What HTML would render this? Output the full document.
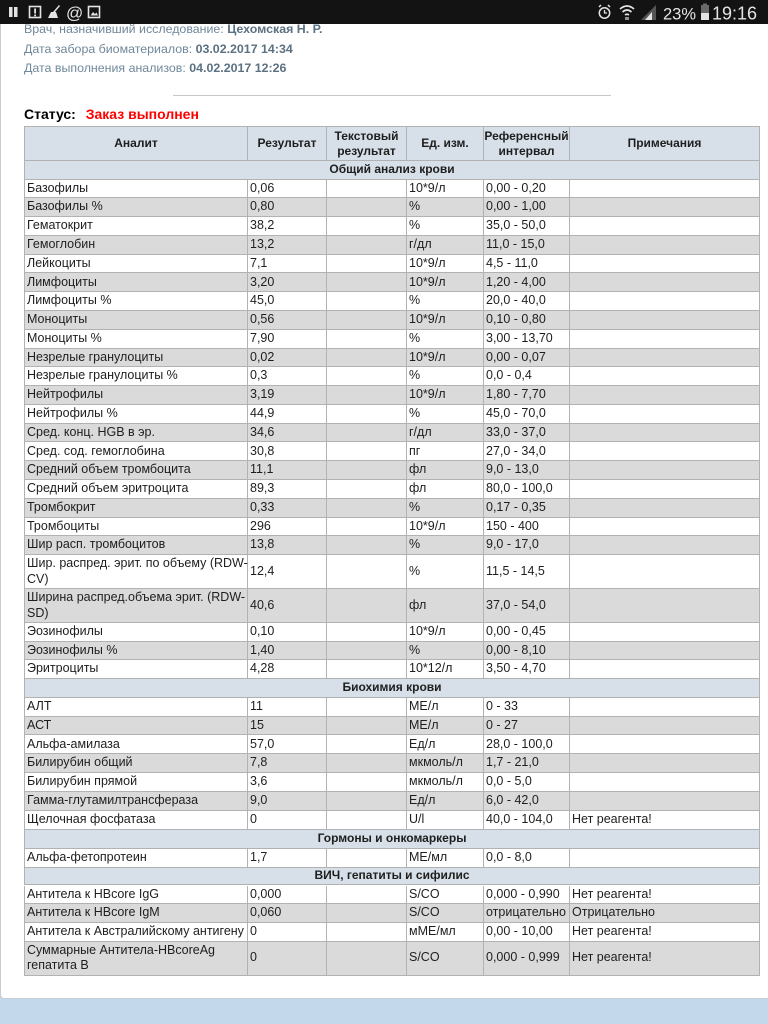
<!DOCTYPE html>
<html><head><meta charset="utf-8">
<style>
html,body{margin:0;padding:0;}
body{width:768px;height:1024px;position:relative;overflow:hidden;background:#c3d8eb;font-family:"Liberation Sans","Noto Sans CJK SC",sans-serif;}
#panel{position:absolute;left:0;top:0;width:800px;height:999px;background:#fff;border:1px solid #c6ccd3;box-sizing:border-box;border-radius:4px;}
.info{position:absolute;left:24px;font-size:12.4px;color:#71889a;line-height:20px;white-space:nowrap;}
.info b{color:#5b7182;}
#hr{position:absolute;left:173px;top:95px;width:438px;height:1px;background:#c8c8c8;}
#status{position:absolute;left:24px;top:104px;font-size:14px;font-weight:bold;line-height:20px;color:#000;white-space:nowrap;}
#status span{color:#f00;margin-left:6px;}
.r{position:absolute;left:24px;width:736px;box-sizing:border-box;border-left:1px solid #b2b2b2;border-bottom:1px solid #b2b2b2;display:flex;font-size:12.5px;color:#1e1e1e;}
.r>span{box-sizing:border-box;border-right:1px solid #b2b2b2;height:100%;display:flex;align-items:center;padding-left:2px;white-space:nowrap;overflow:visible;line-height:15.5px;}
.a{width:223px}.b{width:79px}.c{width:80px}.d{width:77px}.e{width:86px}.f{width:190px}
.g{background:#dadada}
.w{background:#fff}
.h{background:#d7e0e8;border-top:1px solid #b2b2b2;font-weight:bold;font-size:12px;}
.h>span{justify-content:center;text-align:center;padding-left:0;line-height:15px;}
.s{background:#d7e0e8;font-weight:bold;font-size:12px;}
.s>span{width:735px;justify-content:center;padding-left:0;}
</style></head>
<body>
<div id="panel"></div>

<div class="info" style="top:19px">Врач, назначивший исследование: <b>Цехомская Н. Р.</b></div>
<div class="info" style="top:38.5px">Дата забора биоматериалов: <b>03.02.2017 14:34</b></div>
<div class="info" style="top:58px">Дата выполнения анализов: <b>04.02.2017 12:26</b></div>
<div id="hr"></div>
<div id="status">Статус: <span>Заказ выполнен</span></div>

<div class="r h" style="top:126px;height:35px"><span class="a">Аналит</span><span class="b">Результат</span><span class="c">Текстовый<br>результат</span><span class="d">Ед. изм.</span><span class="e">Референсный<br>интервал</span><span class="f">Примечания</span></div>
<div class="r s" style="top:161px;height:18.5px"><span>Общий анализ крови</span></div>

<div class="r w" style="top:179.5px;height:18.78px"><span class="a">Базофилы</span><span class="b">0,06</span><span class="c"></span><span class="d">10*9/л</span><span class="e">0,00 - 0,20</span><span class="f"></span></div>
<div class="r g" style="top:198.28px;height:18.78px"><span class="a">Базофилы %</span><span class="b">0,80</span><span class="c"></span><span class="d">%</span><span class="e">0,00 - 1,00</span><span class="f"></span></div>
<div class="r w" style="top:217.06px;height:18.78px"><span class="a">Гематокрит</span><span class="b">38,2</span><span class="c"></span><span class="d">%</span><span class="e">35,0 - 50,0</span><span class="f"></span></div>
<div class="r g" style="top:235.84px;height:18.78px"><span class="a">Гемоглобин</span><span class="b">13,2</span><span class="c"></span><span class="d">г/дл</span><span class="e">11,0 - 15,0</span><span class="f"></span></div>
<div class="r w" style="top:254.62px;height:18.78px"><span class="a">Лейкоциты</span><span class="b">7,1</span><span class="c"></span><span class="d">10*9/л</span><span class="e">4,5 - 11,0</span><span class="f"></span></div>
<div class="r g" style="top:273.4px;height:18.78px"><span class="a">Лимфоциты</span><span class="b">3,20</span><span class="c"></span><span class="d">10*9/л</span><span class="e">1,20 - 4,00</span><span class="f"></span></div>
<div class="r w" style="top:292.18px;height:18.78px"><span class="a">Лимфоциты %</span><span class="b">45,0</span><span class="c"></span><span class="d">%</span><span class="e">20,0 - 40,0</span><span class="f"></span></div>
<div class="r g" style="top:310.96px;height:18.78px"><span class="a">Моноциты</span><span class="b">0,56</span><span class="c"></span><span class="d">10*9/л</span><span class="e">0,10 - 0,80</span><span class="f"></span></div>
<div class="r w" style="top:329.74px;height:18.78px"><span class="a">Моноциты %</span><span class="b">7,90</span><span class="c"></span><span class="d">%</span><span class="e">3,00 - 13,70</span><span class="f"></span></div>
<div class="r g" style="top:348.52px;height:18.78px"><span class="a">Незрелые гранулоциты</span><span class="b">0,02</span><span class="c"></span><span class="d">10*9/л</span><span class="e">0,00 - 0,07</span><span class="f"></span></div>
<div class="r w" style="top:367.3px;height:18.78px"><span class="a">Незрелые гранулоциты %</span><span class="b">0,3</span><span class="c"></span><span class="d">%</span><span class="e">0,0 - 0,4</span><span class="f"></span></div>
<div class="r g" style="top:386.08px;height:18.78px"><span class="a">Нейтрофилы</span><span class="b">3,19</span><span class="c"></span><span class="d">10*9/л</span><span class="e">1,80 - 7,70</span><span class="f"></span></div>
<div class="r w" style="top:404.86px;height:18.78px"><span class="a">Нейтрофилы %</span><span class="b">44,9</span><span class="c"></span><span class="d">%</span><span class="e">45,0 - 70,0</span><span class="f"></span></div>
<div class="r g" style="top:423.64px;height:18.78px"><span class="a">Сред. конц. HGB в эр.</span><span class="b">34,6</span><span class="c"></span><span class="d">г/дл</span><span class="e">33,0 - 37,0</span><span class="f"></span></div>
<div class="r w" style="top:442.42px;height:18.78px"><span class="a">Сред. сод. гемоглобина</span><span class="b">30,8</span><span class="c"></span><span class="d">пг</span><span class="e">27,0 - 34,0</span><span class="f"></span></div>
<div class="r g" style="top:461.2px;height:18.78px"><span class="a">Средний объем тромбоцита</span><span class="b">11,1</span><span class="c"></span><span class="d">фл</span><span class="e">9,0 - 13,0</span><span class="f"></span></div>
<div class="r w" style="top:479.98px;height:18.78px"><span class="a">Средний объем эритроцита</span><span class="b">89,3</span><span class="c"></span><span class="d">фл</span><span class="e">80,0 - 100,0</span><span class="f"></span></div>
<div class="r g" style="top:498.76px;height:18.78px"><span class="a">Тромбокрит</span><span class="b">0,33</span><span class="c"></span><span class="d">%</span><span class="e">0,17 - 0,35</span><span class="f"></span></div>
<div class="r w" style="top:517.54px;height:18.78px"><span class="a">Тромбоциты</span><span class="b">296</span><span class="c"></span><span class="d">10*9/л</span><span class="e">150 - 400</span><span class="f"></span></div>
<div class="r g" style="top:536.32px;height:18.78px"><span class="a">Шир расп. тромбоцитов</span><span class="b">13,8</span><span class="c"></span><span class="d">%</span><span class="e">9,0 - 17,0</span><span class="f"></span></div>
<div class="r w" style="top:555.1px;height:33.9px"><span class="a">Шир. распред. эрит. по объему (RDW-<br>CV)</span><span class="b">12,4</span><span class="c"></span><span class="d">%</span><span class="e">11,5 - 14,5</span><span class="f"></span></div>
<div class="r g" style="top:589px;height:34px"><span class="a">Ширина распред.объема эрит. (RDW-<br>SD)</span><span class="b">40,6</span><span class="c"></span><span class="d">фл</span><span class="e">37,0 - 54,0</span><span class="f"></span></div>
<div class="r w" style="top:623px;height:18.7px"><span class="a">Эозинофилы</span><span class="b">0,10</span><span class="c"></span><span class="d">10*9/л</span><span class="e">0,00 - 0,45</span><span class="f"></span></div>
<div class="r g" style="top:641.7px;height:18.7px"><span class="a">Эозинофилы %</span><span class="b">1,40</span><span class="c"></span><span class="d">%</span><span class="e">0,00 - 8,10</span><span class="f"></span></div>
<div class="r w" style="top:660.4px;height:18.6px"><span class="a">Эритроциты</span><span class="b">4,28</span><span class="c"></span><span class="d">10*12/л</span><span class="e">3,50 - 4,70</span><span class="f"></span></div>

<div class="r s" style="top:679px;height:18.7px"><span>Биохимия крови</span></div>
<div class="r w" style="top:697.7px;height:19px"><span class="a">АЛТ</span><span class="b">11</span><span class="c"></span><span class="d">МЕ/л</span><span class="e">0 - 33</span><span class="f"></span></div>
<div class="r g" style="top:716.7px;height:18.7px"><span class="a">АСТ</span><span class="b">15</span><span class="c"></span><span class="d">МЕ/л</span><span class="e">0 - 27</span><span class="f"></span></div>
<div class="r w" style="top:735.4px;height:18.9px"><span class="a">Альфа-амилаза</span><span class="b">57,0</span><span class="c"></span><span class="d">Ед/л</span><span class="e">28,0 - 100,0</span><span class="f"></span></div>
<div class="r g" style="top:754.3px;height:18.7px"><span class="a">Билирубин общий</span><span class="b">7,8</span><span class="c"></span><span class="d">мкмоль/л</span><span class="e">1,7 - 21,0</span><span class="f"></span></div>
<div class="r w" style="top:773px;height:19px"><span class="a">Билирубин прямой</span><span class="b">3,6</span><span class="c"></span><span class="d">мкмоль/л</span><span class="e">0,0 - 5,0</span><span class="f"></span></div>
<div class="r g" style="top:792px;height:18.7px"><span class="a">Гамма-глутамилтрансфераза</span><span class="b">9,0</span><span class="c"></span><span class="d">Ед/л</span><span class="e">6,0 - 42,0</span><span class="f"></span></div>
<div class="r w" style="top:810.7px;height:19.3px"><span class="a">Щелочная фосфатаза</span><span class="b">0</span><span class="c"></span><span class="d">U/l</span><span class="e">40,0 - 104,0</span><span class="f">Нет реагента!</span></div>

<div class="r s" style="top:830px;height:18.7px"><span>Гормоны и онкомаркеры</span></div>
<div class="r w" style="top:848.7px;height:19px"><span class="a">Альфа-фетопротеин</span><span class="b">1,7</span><span class="c"></span><span class="d">МЕ/мл</span><span class="e">0,0 - 8,0</span><span class="f"></span></div>

<div class="r s" style="top:867.7px;height:17.8px"><span>ВИЧ, гепатиты и сифилис</span></div>
<div class="r w" style="top:885.5px;height:18.7px"><span class="a">Антитела к HBcore IgG</span><span class="b">0,000</span><span class="c"></span><span class="d">S/CO</span><span class="e">0,000 - 0,990</span><span class="f">Нет реагента!</span></div>
<div class="r g" style="top:904.2px;height:18.6px"><span class="a">Антитела к HBcore IgM</span><span class="b">0,060</span><span class="c"></span><span class="d">S/CO</span><span class="e">отрицательно</span><span class="f">Отрицательно</span></div>
<div class="r w" style="top:922.8px;height:18.8px"><span class="a">Антитела к Австралийскому антигену</span><span class="b">0</span><span class="c"></span><span class="d">мМЕ/мл</span><span class="e">0,00 - 10,00</span><span class="f">Нет реагента!</span></div>
<div class="r g" style="top:941.6px;height:34.1px"><span class="a">Суммарные Антитела-HBcoreAg<br>гепатита В</span><span class="b">0</span><span class="c"></span><span class="d">S/CO</span><span class="e">0,000 - 0,999</span><span class="f">Нет реагента!</span></div>

<svg style="position:absolute;left:0;top:0" width="768" height="24" viewBox="0 0 768 24">
<rect x="0" y="0" width="768" height="24" fill="#131313"/>
<g fill="#e4e4e4" stroke="none">
<rect x="9" y="7" width="3.5" height="10"/>
<rect x="14" y="7" width="3.5" height="10"/>
</g>
<rect x="29.5" y="6.5" width="11" height="11" fill="none" stroke="#e4e4e4" stroke-width="1.6"/>
<rect x="34.2" y="8.5" width="1.8" height="5" fill="#e4e4e4"/>
<rect x="34.2" y="14.5" width="1.8" height="1.8" fill="#e4e4e4"/>
<path d="M48 18 L51 12 L56 12 L58 18 Z" fill="#e4e4e4"/>
<path d="M53 12 L59 5 L60 6 L55 12 Z" fill="#e4e4e4"/>
<text x="66" y="18.5" font-family="Liberation Sans" font-size="17" fill="#e4e4e4">@</text>
<rect x="88.5" y="6.5" width="11" height="11" fill="none" stroke="#e4e4e4" stroke-width="1.6"/>
<path d="M90.5 15.5 L93 12 L95 14 L96.5 12.5 L98 15.5 Z" fill="#e4e4e4"/>
<circle cx="604.5" cy="13" r="5.2" fill="none" stroke="#e4e4e4" stroke-width="1.5"/>
<path d="M604.5 10 V13 H607" fill="none" stroke="#e4e4e4" stroke-width="1.3"/>
<path d="M599 7 L601 5 M610 7 L608 5" stroke="#e4e4e4" stroke-width="1.5"/>
<path d="M620 9 Q627 3 634 9" fill="none" stroke="#e4e4e4" stroke-width="1.6"/>
<path d="M622.5 12 Q627 8 631.5 12" fill="none" stroke="#e4e4e4" stroke-width="1.6"/>
<path d="M625 15 Q627 13.5 629 15" fill="none" stroke="#e4e4e4" stroke-width="1.6"/>
<path d="M626 17 V20 M628 17 V20" stroke="#e4e4e4" stroke-width="1.2"/>
<path d="M641 20 L656 5 L656 20 Z" fill="#555"/>
<path d="M645 20 L652 12 L652 20 Z" fill="#e4e4e4"/>
<text x="663" y="19.5" font-family="Liberation Sans" font-size="16.5" fill="#e4e4e4">23%</text>
<rect x="701" y="5" width="8" height="15" fill="#6a6a6a"/>
<rect x="701" y="13" width="8" height="7" fill="#e4e4e4"/>
<rect x="703" y="3.5" width="4" height="1.5" fill="#6a6a6a"/>
<text x="712" y="19.5" font-family="Liberation Sans" font-size="18" fill="#e4e4e4">19:16</text>
</svg>
</body></html>
